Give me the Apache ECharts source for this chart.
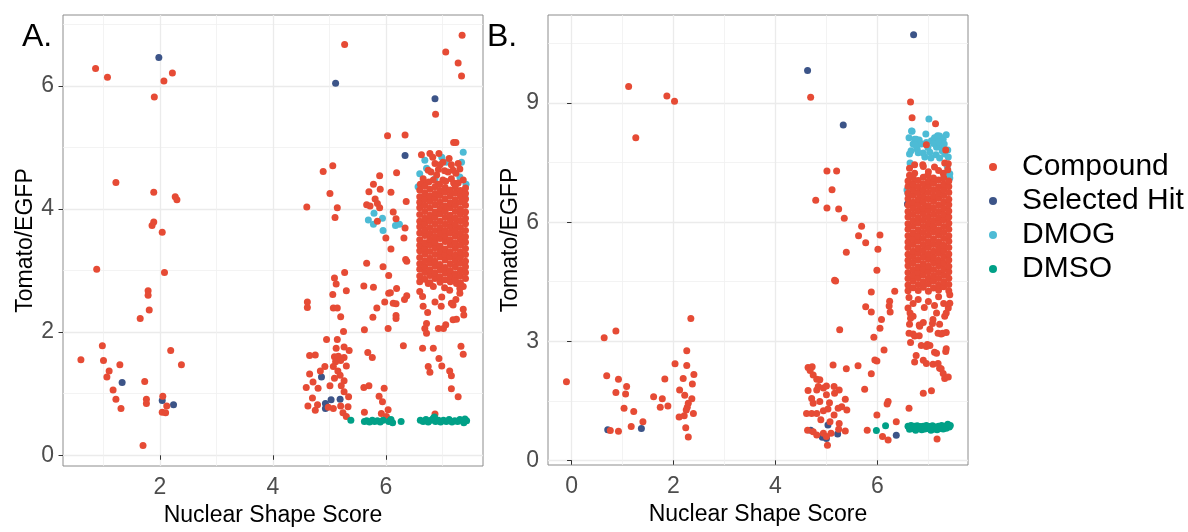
<!DOCTYPE html>
<html>
<head>
<meta charset="utf-8">
<script src="https://cdn.jsdelivr.net/npm/echarts@6/dist/echarts.min.js"></script>
<style>
  html, body { margin: 0; padding: 0; background: #fff; }
  #chart { width: 1188px; height: 532px; }
</style>
</head>
<body>
<div id="chart"></div>
<script>
// Group names, legend order
const groupNames = ['Compound', 'Selected Hit', 'DMOG', 'DMSO'];

// Tick positions
const xTicksA = [2, 4, 6];
const xMinorA = [1, 3, 5, 7];
const yTicksA = [0, 2, 4, 6];
const yMinorA = [1, 3, 5, 7];
const xTicksB = [0, 2, 4, 6];
const xMinorB = [1, 3, 5, 7];
const yTicksB = [0, 3, 6, 9];
const yMinorB = [1.5, 4.5, 7.5, 10.5];

// ---------- Panel A : [Nuclear Shape Score, Tomato/EGFP] ----------
const compoundA = [
  [0.60,1.55],[0.86,6.28],[1.07,6.14],[0.88,3.02],[0.98,1.78],[1.00,1.54],[1.10,1.37],[1.06,1.27],
  [1.22,4.43],[1.29,1.47],[1.17,1.06],[1.22,0.91],[1.31,0.76],[1.70,0.16],[1.65,2.22],[1.73,1.20],
  [1.76,0.91],[1.76,0.84],[1.81,2.36],[1.79,2.67],[1.79,2.60],[1.86,3.73],[1.89,3.79],[1.89,4.27],
  [1.90,5.82],[2.04,3.62],[2.08,2.97],[2.07,6.08],[2.22,6.21],[2.27,4.20],[2.30,4.15],[2.19,1.70],
  [2.38,1.47],[2.05,0.96],[2.12,0.80],[2.04,0.70],[2.10,0.69],
  [4.60,4.03],[4.61,2.49],[4.61,2.40],[4.89,4.61],[5.06,4.70],[5.27,6.67],[5.01,4.25],[5.14,4.02],
  [5.10,3.86],[5.27,2.97],[5.09,2.88],[5.12,2.78],[5.30,2.67],[5.06,2.61],[5.07,2.39],[5.14,2.39],
  [5.20,2.25],[5.25,2.01],[4.95,1.88],[5.14,1.88],[5.12,1.74],[5.26,1.76],[5.35,1.70],[4.65,1.62],
  [4.75,1.63],[5.09,1.60],[5.16,1.61],[5.26,1.59],[5.11,1.52],[5.20,1.54],[5.30,1.45],[5.07,1.44],
  [4.92,1.44],[4.84,1.37],[5.15,1.37],[4.65,1.32],[5.19,1.30],[5.09,1.25],[5.26,1.21],[4.71,1.19],
  [4.59,1.10],[4.80,1.09],[5.01,1.13],[5.21,1.13],[5.26,1.03],[4.70,0.93],[5.34,0.95],[4.62,0.80],
  [4.79,0.82],[4.98,0.78],[5.07,0.76],[5.20,0.80],[5.33,0.79],[4.75,0.73],[5.24,0.69],[5.30,0.63],
  [6.03,5.19],[6.34,5.20],[6.19,4.59],[5.89,4.54],[5.78,4.40],[5.70,4.28],[5.90,4.32],[6.09,4.27],
  [5.81,4.16],[5.85,4.09],[5.66,4.07],[5.72,4.05],[5.89,4.02],[6.36,4.12],[5.85,3.80],[6.13,3.95],
  [6.18,3.84],[6.34,3.69],[6.00,3.53],[6.32,3.53],[6.09,3.35],[6.35,3.18],[6.37,3.15],[5.66,3.12],
  [5.95,3.06],[6.05,2.92],[5.61,2.75],[5.78,2.73],[6.19,2.71],[6.05,2.63],[6.08,2.64],[6.37,2.59],
  [6.33,2.53],[5.98,2.49],[6.13,2.47],[6.18,2.46],[5.84,2.39],[6.18,2.27],[6.18,2.22],[5.77,2.24],
  [5.62,2.04],[6.04,2.06],[6.31,1.78],[5.68,1.67],[5.76,1.59],[5.70,1.13],[5.61,1.10],[5.97,1.09],
  [5.88,0.96],[5.94,0.87],[5.62,0.70],[6.04,0.74],[5.92,0.68],[6.01,0.63],
  [6.88,5.54],[7.06,6.55],[7.28,6.37],[7.34,6.16],[7.35,6.82],[7.20,5.08],[7.24,5.08],[6.94,4.90],
  [6.63,4.88],[6.78,4.90],[6.87,4.74],[7.01,4.76],[7.19,4.63],[7.31,4.65],[6.75,4.63],[7.01,4.47],
  [7.16,4.49],[7.28,4.74],[6.66,4.49],[6.90,4.55],[7.37,4.47],[7.10,4.60],[6.84,4.47],[6.70,4.42],
  [6.95,4.40],[7.22,4.41],[7.06,4.45],[6.61,4.40],[6.80,4.60],[6.93,4.64],[7.04,4.62],[7.16,4.72],
  [7.24,4.58],[6.96,4.72],[7.12,4.82],[6.83,4.84],[7.20,4.42],[6.92,4.40],[6.76,4.44],[7.28,4.42],
  [6.60,2.66],[6.84,2.74],[6.99,2.57],[7.13,2.68],[7.31,2.63],[6.65,2.58],[6.87,2.49],[7.19,2.44],
  [7.37,2.74],[6.75,2.79],[7.04,2.72],[7.25,2.79],[7.16,2.47],[7.24,2.53],[7.31,2.71],[6.74,2.32],
  [7.38,2.28],[7.37,2.37],[7.25,2.21],[7.19,2.20],[7.06,2.12],[7.02,2.06],[6.93,2.06],[6.72,2.14],
  [6.69,2.06],[6.72,1.98],[6.65,1.74],[6.84,1.74],[6.75,1.44],[6.78,1.35],[6.94,1.57],[6.99,1.45],
  [7.13,1.37],[7.16,1.29],[7.16,1.08],[7.28,0.95],[7.33,1.77],[7.37,1.64],[6.87,0.67],[6.98,2.42],
  [6.66,2.42]
];
// Dense compound column near x≈7: [x, [y values]]
const compoundCoreA = [
  [6.60, [2.82,2.91,3.02,3.11,3.21,3.32,3.41,3.50,3.61,3.71,3.80,3.91,4.02,4.11,4.20,4.31]],
  [6.69, [2.86,2.97,3.06,3.16,3.27,3.36,3.45,3.57,3.66,3.76,3.85,3.96,4.06,4.16,4.26,4.37]],
  [6.78, [2.80,2.92,3.01,3.12,3.20,3.31,3.42,3.51,3.60,3.70,3.81,3.90,4.01,4.12,4.21,4.32]],
  [6.87, [2.87,2.96,3.07,3.15,3.26,3.37,3.46,3.55,3.65,3.76,3.86,3.95,4.07,4.17,4.25,4.36]],
  [6.96, [2.81,2.90,3.01,3.10,3.22,3.31,3.40,3.52,3.61,3.70,3.80,3.92,4.01,4.11,4.22,4.30]],
  [7.05, [2.85,2.96,3.05,3.17,3.26,3.35,3.47,3.56,3.65,3.75,3.86,3.96,4.05,4.16,4.27,4.35]],
  [7.14, [2.82,2.91,3.00,3.11,3.22,3.30,3.41,3.50,3.61,3.71,3.81,3.90,4.02,4.10,4.21,4.31]],
  [7.23, [2.86,2.95,3.06,3.16,3.25,3.36,3.45,3.56,3.66,3.75,3.85,3.96,4.06,4.15,4.26,4.36]],
  [7.32, [2.80,2.91,3.01,3.12,3.21,3.30,3.41,3.51,3.60,3.70,3.81,3.91,4.00,4.11,4.21,4.30]],
  [7.41, [2.87,2.97,3.06,3.15,3.26,3.36,3.46,3.55,3.65,3.76,3.85,3.95,4.06,4.16,4.25,4.34]]
];
const hitA = [
  [1.33,1.18],[1.98,6.46],[2.04,0.89],[2.24,0.82],[5.11,6.04],[4.86,1.27],[5.03,0.90],[5.19,0.91],
  [4.93,0.84],[4.93,0.76],[6.34,4.87],[6.87,5.79]
];
const dmogA = [
  [5.79,3.93],[5.69,3.82],[5.78,3.75],[5.94,3.85],[5.95,3.65],[6.17,3.73],[6.24,3.75],
  [6.69,4.79],[6.99,4.84],[7.37,4.92],[7.34,4.76],[6.87,4.49],[6.60,4.57],[7.31,4.52],[6.57,4.36],
  [7.40,4.19],[7.07,4.76],[7.42,4.40],[6.72,4.66]
];
const dmsoA = [
  [5.38,0.57],[5.62,0.55],[5.66,0.56],[5.71,0.54],[5.76,0.57],[5.80,0.55],[5.85,0.56],[5.90,0.54],
  [5.95,0.57],[6.05,0.55],[6.09,0.58],[6.12,0.53],[6.27,0.55],
  [6.61,0.57],[6.66,0.55],[6.71,0.58],[6.75,0.54],[6.80,0.57],[6.84,0.60],[6.88,0.55],[6.93,0.57],
  [6.97,0.54],[7.02,0.57],[7.07,0.55],[7.12,0.58],[7.17,0.54],[7.22,0.56],[7.27,0.55],[7.31,0.58],
  [7.36,0.56],[7.40,0.59],[7.43,0.56],[6.86,0.62],[7.38,0.53]
];

// ---------- Panel B ----------
const compoundB = [
  [-0.10,1.98],[0.64,3.09],[0.87,3.26],[0.69,2.13],[0.92,2.04],[0.87,1.71],[1.08,1.86],[1.06,1.67],
  [1.03,1.31],[1.22,1.23],[1.17,0.85],[1.40,0.97],[0.76,0.75],[0.92,0.73],[1.12,9.42],[1.26,8.13],
  [1.87,9.18],[2.02,9.05],[2.34,3.57],[2.26,2.76],[2.03,2.43],[2.26,2.39],[2.40,2.16],[1.83,2.05],
  [2.19,2.06],[2.37,1.92],[2.12,1.77],[2.22,1.64],[1.61,1.60],[1.78,1.55],[2.36,1.55],[1.74,1.34],
  [1.89,1.37],[2.29,1.44],[2.27,1.34],[2.25,1.27],[2.39,1.18],[2.11,1.09],[2.21,1.12],[2.24,0.82],
  [2.29,0.59],
  [4.69,9.15],[4.79,6.55],[5.01,7.29],[5.20,7.29],[5.11,6.82],[5.01,6.36],[5.24,6.33],[5.35,6.10],
  [5.39,5.24],[5.16,4.54],[5.18,4.52],[5.26,3.29],[5.13,2.40],[5.39,2.31],[4.64,2.34],[4.72,2.36],
  [4.68,2.26],[4.74,2.15],[4.81,2.04],[4.87,2.03],[4.84,1.86],[4.94,1.82],[4.64,1.76],[4.81,1.77],
  [5.00,1.87],[5.15,1.86],[5.25,1.77],[5.16,1.69],[5.00,1.65],[4.71,1.56],[4.74,1.44],[4.87,1.48],
  [5.06,1.45],[5.37,1.54],[5.30,1.35],[5.40,1.27],[5.23,1.31],[5.03,1.29],[4.94,1.25],[4.61,1.18],
  [4.71,1.18],[4.81,1.18],[5.15,1.14],[4.89,1.02],[5.07,0.97],[5.25,0.93],[4.63,0.76],[4.74,0.72],
  [4.94,0.68],[5.09,0.68],[5.37,0.74],[5.24,0.78],[4.81,0.64],[5.02,0.38],[5.00,0.60],
  [5.69,5.90],[5.63,5.66],[5.77,5.48],[6.05,5.68],[6.01,5.32],[5.99,4.79],[5.88,4.24],[6.34,4.26],
  [5.77,3.87],[5.88,3.74],[6.24,4.01],[6.23,3.89],[6.25,3.74],[6.08,3.55],[6.05,3.33],[5.93,3.10],
  [6.13,2.78],[5.95,2.53],[5.99,2.50],[5.62,2.38],[5.88,2.18],[5.75,1.79],[6.21,1.48],[6.19,1.42],
  [5.99,1.14],[5.80,0.76],[6.10,0.60],[6.21,0.51],[6.37,0.97],
  [6.65,9.03],[6.68,8.63],[7.14,8.48],[6.96,7.95],[7.34,7.82],[6.89,7.45],[6.73,7.45],[6.63,7.18],
  [7.00,7.27],[7.12,7.39],[7.39,7.47],[6.63,7.36],[6.90,7.40],[7.32,7.49],[7.29,7.23],[7.38,7.32],
  [6.73,7.23],[6.99,7.19],[7.20,7.30],
  [6.60,3.84],[6.70,3.63],[6.63,3.43],[6.83,3.38],[6.90,3.47],[7.09,3.55],[7.22,3.43],[7.32,3.63],
  [7.39,3.84],[7.42,4.17],[6.70,3.18],[7.03,3.30],[7.25,3.18],[7.35,3.22],[6.65,2.97],[6.82,3.14],
  [6.86,2.89],[7.03,2.89],[7.12,2.72],[7.35,2.81],[6.76,2.64],[6.73,2.48],[6.90,2.52],[6.96,2.44],
  [7.09,2.42],[7.19,2.44],[7.25,2.31],[7.29,2.19],[7.32,2.06],[7.39,2.10],[6.90,1.69],[7.06,1.75],
  [6.62,1.31],[7.17,0.54],[6.64,3.71],[6.65,3.58],[7.16,3.71],[7.35,3.71],[7.42,3.96],[6.62,3.20],
  [6.73,3.13],[6.98,2.92],[7.16,2.70],[7.22,2.32],[6.96,2.87],[6.82,3.41],[7.08,3.45],[7.19,3.20],
  [7.28,3.20],[7.34,2.74],[6.62,4.10],[6.80,4.05],[7.00,4.00],[7.20,4.12],[6.70,3.95],[7.30,3.95],
  [6.92,3.85],[7.12,3.90]
];
const compoundCoreB = [
  [6.60, [4.27,4.42,4.58,4.73,4.90,5.04,5.19,5.36,5.50,5.66,5.82,5.96,6.13,6.27,6.43,6.59,6.73,6.90,7.04]],
  [6.70, [4.35,4.52,4.66,4.81,4.97,5.13,5.27,5.44,5.58,5.73,5.90,6.04,6.20,6.36,6.50,6.67,6.82,6.96,7.12]],
  [6.80, [4.28,4.43,4.60,4.74,4.88,5.05,5.21,5.35,5.52,5.66,5.81,5.98,6.12,6.28,6.44,6.58,6.74,6.89,7.05]],
  [6.90, [4.36,4.50,4.67,4.82,4.96,5.12,5.28,5.43,5.59,5.74,5.89,6.05,6.21,6.35,6.51,6.66,6.81,6.97,7.13]],
  [7.00, [4.26,4.44,4.59,4.75,4.89,5.06,5.20,5.36,5.51,5.67,5.83,5.97,6.13,6.29,6.42,6.59,6.75,6.90,7.03]],
  [7.10, [4.34,4.51,4.65,4.81,4.98,5.12,5.27,5.44,5.58,5.75,5.90,6.04,6.20,6.36,6.52,6.66,6.82,6.98,7.11]],
  [7.20, [4.29,4.42,4.58,4.73,4.90,5.04,5.21,5.35,5.50,5.67,5.81,5.98,6.12,6.27,6.43,6.60,6.74,6.89,7.06]],
  [7.30, [4.37,4.50,4.66,4.82,4.97,5.13,5.28,5.42,5.59,5.74,5.89,6.06,6.20,6.35,6.51,6.67,6.82,6.96,7.12]],
  [7.40, [4.27,4.43,4.59,4.75,4.89,5.05,5.20,5.36,5.52,5.66,5.82,5.97,6.13,6.28,6.44,6.58,6.75,6.90,7.04]]
];
const hitB = [
  [0.71,0.77],[1.37,0.80],[4.63,9.82],[5.33,8.45],[4.69,0.76],[5.03,0.89],[4.92,0.58],[5.00,0.55],
  [5.22,0.66],[6.37,0.63],[6.71,10.72],[6.59,6.46]
];
const dmogB = [
  [7.01,8.60],[6.67,8.30],[6.62,8.13],[6.73,8.09],[6.82,8.07],[6.86,7.97],[6.70,7.97],[6.78,7.84],
  [6.93,7.64],[7.03,7.76],[7.06,8.05],[7.12,8.13],[7.22,8.17],[7.29,8.09],[7.35,8.20],[7.25,7.93],
  [7.32,7.72],[7.39,7.64],[7.37,7.41],[7.42,7.22],[6.90,7.74],[6.63,7.72],[6.58,6.81],[7.16,7.89],
  [6.96,8.01],[6.68,8.29],[6.76,8.09],[6.83,7.99],[7.18,8.18],[7.38,7.82],[6.64,7.49],[7.35,7.23],
  [7.42,7.11],[6.60,6.73],[6.99,7.88],[7.10,7.98],[7.20,8.02],[6.80,7.75],[7.27,7.80],[7.15,7.70],
  [6.66,7.80],[6.95,8.22],[7.31,7.97],[6.74,7.95],[7.05,7.62],[7.22,7.62]
];
const dmsoB = [
  [5.98,0.75],[6.16,0.87],
  [6.60,0.86],[6.63,0.78],[6.66,0.88],[6.69,0.80],[6.72,0.86],[6.75,0.76],[6.78,0.87],[6.81,0.80],
  [6.84,0.85],[6.87,0.77],[6.90,0.86],[6.93,0.79],[6.96,0.88],[6.99,0.80],[7.02,0.85],[7.05,0.76],
  [7.08,0.87],[7.11,0.79],[7.14,0.84],[7.17,0.77],[7.20,0.86],[7.23,0.80],[7.26,0.88],[7.29,0.79],
  [7.32,0.86],[7.35,0.81],[7.38,0.91],[7.41,0.84],[7.43,0.88],[6.76,0.82],[7.00,0.83],[7.24,0.84]
];

// ---------- chart ----------
const FONT = '"Liberation Sans", Arial, Helvetica, sans-serif';
const groupColors = {
  'Compound': '#E64B35',
  'Selected Hit': '#3C5488',
  'DMOG': '#4DBBD5',
  'DMSO': '#00A087'
};

function columnsToPoints(cols) {
  const pts = [];
  cols.forEach(function (c) { c[1].forEach(function (y) { pts.push([c[0], y]); }); });
  return pts;
}

function mainXAxis(gridIndex, min, max, ticks) {
  return {
    type: 'value', gridIndex: gridIndex, min: min, max: max, position: 'bottom',
    name: 'Nuclear Shape Score', nameLocation: 'middle', nameGap: 38, nameMoveOverlap: false,
    nameTextStyle: { color: '#000', fontSize: 23, fontFamily: FONT },
    axisLine: { show: false },
    axisTick: { show: true, length: 4.5, customValues: ticks, lineStyle: { color: '#333', width: 1 } },
    axisLabel: { customValues: ticks, color: '#4d4d4d', fontSize: 23, margin: 10, fontFamily: FONT },
    splitLine: { show: true, lineStyle: { color: '#ebebeb', width: 1.3 } }
  };
}
function mainYAxis(gridIndex, min, max, ticks) {
  return {
    type: 'value', gridIndex: gridIndex, min: min, max: max, position: 'left',
    name: 'Tomato/EGFP', nameLocation: 'middle', nameGap: 26, nameMoveOverlap: false,
    nameTextStyle: { color: '#000', fontSize: 23, fontFamily: FONT },
    axisLine: { show: false },
    axisTick: { show: true, length: 4.5, customValues: ticks, lineStyle: { color: '#333', width: 1 } },
    axisLabel: { customValues: ticks, color: '#4d4d4d', fontSize: 23, margin: 9, fontFamily: FONT },
    splitLine: { show: true, lineStyle: { color: '#ebebeb', width: 1.3 } }
  };
}
function minorAxis(gridIndex, min, max, vals, pos) {
  return {
    type: 'value', gridIndex: gridIndex, min: min, max: max, position: pos,
    axisLine: { show: false },
    axisTick: { show: false, customValues: vals },
    axisLabel: { show: false, customValues: vals },
    splitLine: { show: true, lineStyle: { color: '#f0f0f0', width: 0.8 } }
  };
}
function scatter(name, xi, yi, data) {
  return {
    type: 'scatter', name: name, xAxisIndex: xi, yAxisIndex: yi, data: data,
    symbol: 'circle', symbolSize: 7, silent: true,
    itemStyle: { color: groupColors[name], opacity: 1 },
    emphasis: { disabled: true }
  };
}

const chart = echarts.init(document.getElementById('chart'), null, { renderer: 'canvas' });
chart.setOption({
  animation: false,
  backgroundColor: '#fff',
  title: [
    { text: 'A.', left: 22, top: 21, padding: 0,
      textStyle: { fontSize: 32, fontWeight: 'normal', color: '#000', fontFamily: FONT } },
    { text: 'B.', left: 487, top: 21, padding: 0,
      textStyle: { fontSize: 32, fontWeight: 'normal', color: '#000', fontFamily: FONT } }
  ],
  legend: {
    data: groupNames, orient: 'vertical', left: 989, top: 150, padding: 0,
    itemGap: 0, itemWidth: 48, itemHeight: 8, icon: 'circle', selectedMode: false,
    textStyle: { fontSize: 30, lineHeight: 34, color: '#000', fontFamily: FONT }
  },
  grid: [
    { left: 63, top: 15, width: 420, height: 451, show: true, borderColor: '#8c8c8c', borderWidth: 1,
      backgroundColor: 'transparent', outerBoundsMode: 'none', containLabel: false },
    { left: 548, top: 15, width: 420, height: 450, show: true, borderColor: '#8c8c8c', borderWidth: 1,
      backgroundColor: 'transparent', outerBoundsMode: 'none', containLabel: false }
  ],
  xAxis: [
    mainXAxis(0, 0.283, 7.72, xTicksA),
    minorAxis(0, 0.283, 7.72, xMinorA, 'top'),
    mainXAxis(1, -0.462, 7.777, xTicksB),
    minorAxis(1, -0.462, 7.777, xMinorB, 'top')
  ],
  yAxis: [
    mainYAxis(0, -0.174, 7.15, yTicksA),
    minorAxis(0, -0.174, 7.15, yMinorA, 'right'),
    mainYAxis(1, -0.118, 11.22, yTicksB),
    minorAxis(1, -0.118, 11.22, yMinorB, 'right')
  ],
  series: [
    scatter('Selected Hit', 0, 0, hitA),
    scatter('DMOG', 0, 0, dmogA),
    scatter('Compound', 0, 0, compoundA.concat(columnsToPoints(compoundCoreA))),
    scatter('DMSO', 0, 0, dmsoA),
    scatter('Selected Hit', 2, 2, hitB),
    scatter('DMOG', 2, 2, dmogB),
    scatter('Compound', 2, 2, compoundB.concat(columnsToPoints(compoundCoreB))),
    scatter('DMSO', 2, 2, dmsoB)
  ]
});
</script>
</body>
</html>
